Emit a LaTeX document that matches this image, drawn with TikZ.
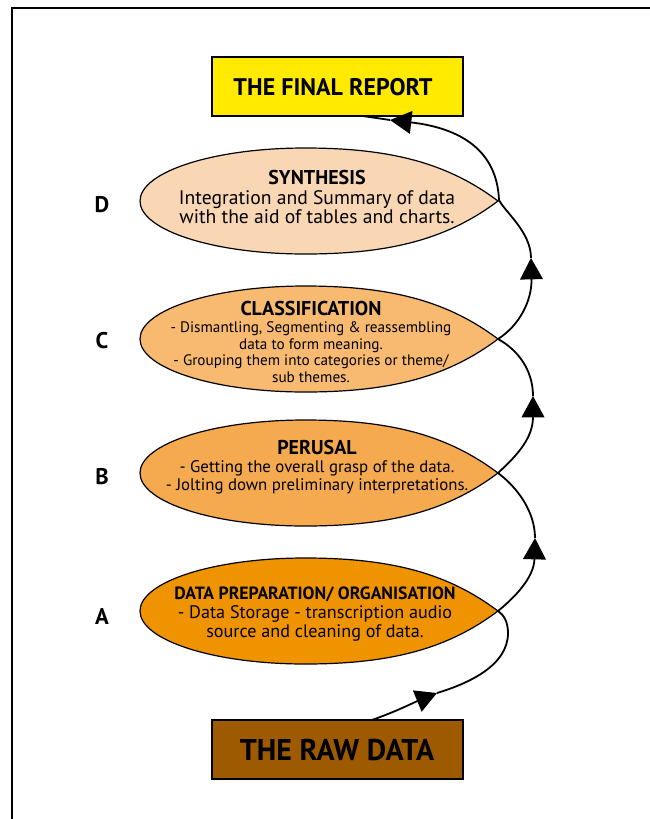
\documentclass[tikz,border=0pt]{standalone}
\usepackage{fontspec}
\setmainfont{PT Sans}
\usetikzlibrary{arrows.meta,calc}
\definecolor{repyellow}{RGB}{255,234,0}
\definecolor{rawbrown}{RGB}{158,90,0}
\definecolor{colD}{RGB}{250,215,180}
\definecolor{colC}{RGB}{247,186,112}
\definecolor{colB}{RGB}{245,170,80}
\definecolor{colA}{RGB}{240,147,0}
\begin{document}
\begin{tikzpicture}[x=0.75pt,y=-0.75pt,
  every node/.style={inner sep=0pt, outer sep=0pt},
  endbox/.style={draw=black, line width=1.2pt, minimum width=188.25pt, minimum height=44.25pt},
  flow/.style={line width=1.35pt, draw=black},
  tipped/.style={-{Triangle[length=16pt,width=17pt]}},
  bodytext/.style={align=center},
  lettermark/.style={font=\bfseries\fontsize{17}{18}\selectfont},
  pics/lens/.style={code={
    \path[draw=black, line width=0.9pt, fill=#1]
      (178,0) .. controls (130,-36) and (75,-53) .. (-15,-53)
      .. controls (-107,-53) and (-180,-29) .. (-180,0)
      .. controls (-180,29) and (-107,53) .. (-15,53)
      .. controls (75,53) and (130,36) .. cycle;
  }}
]
\useasboundingbox (0,0) rectangle (650,819);
\fill[white] (0,0) rectangle (650,819);
\draw[line width=1.2pt] (650,8) -- (12,8) -- (12,819);

% end boxes
\node[endbox, fill=repyellow] (fin) at (337.5,86.5) {};
\node[font=\bfseries\fontsize{18}{20}\selectfont] (fintext) at (333,87) {THE FINAL REPORT};
\node[endbox, fill=rawbrown] (raw) at (337.5,749.5) {};
\node[font=\bfseries\fontsize{22.5}{24}\selectfont] (rawtext) at (337,750) {THE RAW DATA};

% flow coordinates
\coordinate (s0) at ($(raw.north west)!0.637!(raw.north east)$);
\coordinate (a1) at (437,693);
\coordinate (tA) at (498,611);
\coordinate (a2) at (535,538);
\coordinate (tB) at (498,473);
\coordinate (a3) at (533,396);
\coordinate (tC) at (498,339);
\coordinate (a4) at (531,258);
\coordinate (tD) at (499,200);
\coordinate (a5) at (390,120);
\coordinate (e5) at ($(fin.south west)!0.6!(fin.south east)$);

\draw[flow,tipped] (s0) .. controls (395,712) and (415,702) .. (a1);
\draw[flow] (a1) .. controls (470,683) and (508,665) .. (508,633) .. controls (508,622) and (504,615) .. (tA);
\draw[flow,tipped] (tA) .. controls (514,598) and (534,578) .. (a2);
\draw[flow] (a2) .. controls (535,512) and (518,488) .. (tB);
\draw[flow,tipped] (tB) .. controls (514,458) and (533,440) .. (a3);
\draw[flow] (a3) .. controls (533,370) and (518,350) .. (tC);
\draw[flow,tipped] (tC) .. controls (520,325) and (532,300) .. (a4);
\draw[flow,tipped] (a4) .. controls (531,232) and (505,212) .. (tD) .. controls (497,150) and (460,128) .. (a5);
\draw[flow] (a5) -- (e5);

% lenses
\pic at (320,201) {lens=colD};
\pic at (320,339) {lens=colC};
\pic at (320,473) {lens=colB};
\pic at (320,611) {lens=colA};

% texts
\node[bodytext, font=\fontsize{14.7}{14.5}\selectfont] (txtD) at (317,197)
  {{\bfseries\fontsize{15}{14}\selectfont SYNTHESIS}\\Integration and Summary of data\\with the aid of tables and charts.};
\node[bodytext, font=\fontsize{11.4}{12.6}\selectfont] (txtC) at (311,342)
  {{\bfseries\fontsize{15}{14}\selectfont CLASSIFICATION}\\- Dismantling, Segmenting \& reassembling\\data to form meaning.\\- Grouping them into categories or theme/\\sub themes.};
\node[bodytext, font=\fontsize{12.6}{13.5}\selectfont] (txtB) at (317,467)
  {{\bfseries\fontsize{15}{14}\selectfont PERUSAL}\\- Getting the overall grasp of the data.\\- Jolting down preliminary interpretations.};
\node[bodytext, font=\fontsize{13.6}{14.2}\selectfont] (txtA) at (315,614)
  {{\bfseries\fontsize{13.3}{14}\selectfont DATA PREPARATION/ ORGANISATION}\\- Data Storage - transcription audio\\source and cleaning of data.};

% letters
\node[lettermark] (lD) at (102,205) {D};
\node[lettermark] (lC) at (102,341) {C};
\node[lettermark] (lB) at (102,477) {B};
\node[lettermark] (lA) at (102,617) {A};
\end{tikzpicture}
\end{document}
